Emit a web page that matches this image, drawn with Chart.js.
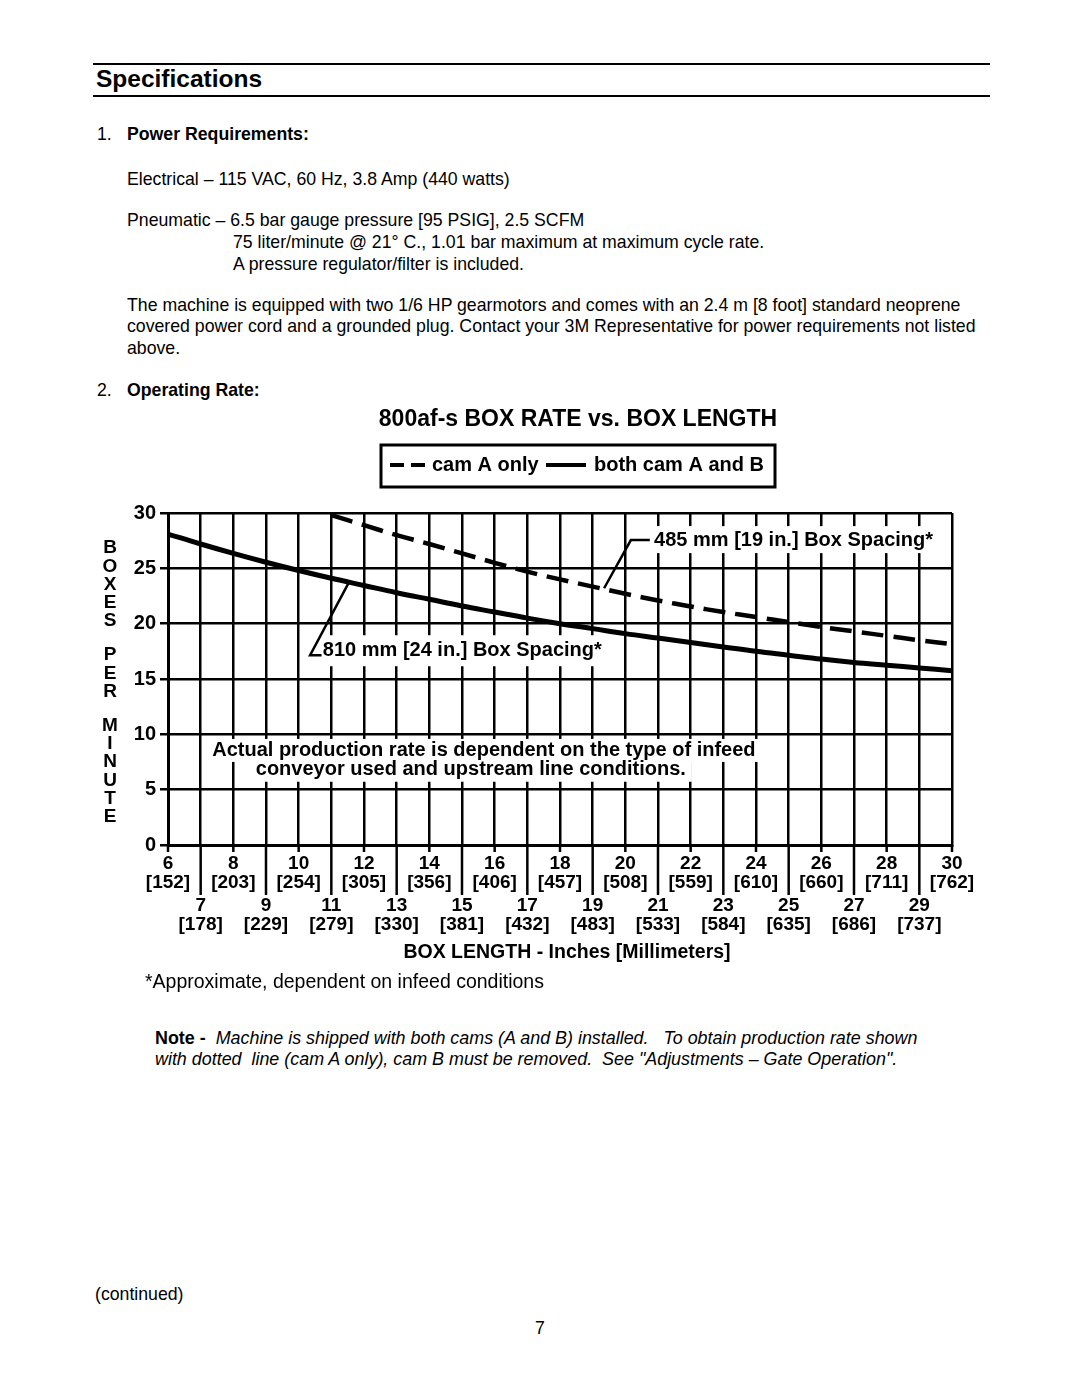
<!DOCTYPE html>
<html>
<head>
<meta charset="utf-8">
<script src="https://cdn.jsdelivr.net/npm/chart.js@4.4.1/dist/chart.umd.min.js"></script>
<style>
  body { margin: 0; background: #fff; }
  #page { position: relative; width: 1080px; height: 1397px; font-family: "Liberation Sans", Arial, sans-serif; color: #000; }
  .t { position: absolute; white-space: pre; font-size: 17.7px; line-height: 20px; }
  .b { font-weight: bold; }
  .rule { position: absolute; left: 93px; width: 897px; height: 2px; background: #000; }
  #wrap { position: absolute; left: 90px; top: 395px; width: 910px; height: 610px; }
</style>
</head>
<body>
<div id="page">
  <div class="rule" style="top:63px"></div>
  <div class="t b" style="top:65px;left:96px;font-size:24.5px;line-height:28px">Specifications</div>
  <div class="rule" style="top:95px"></div>

  <div class="t" style="top:124px;left:97px">1.</div>
  <div class="t b" style="top:124px;left:127px">Power Requirements:</div>
  <div class="t" style="top:169px;left:127px">Electrical – 115 VAC, 60 Hz, 3.8 Amp (440 watts)</div>
  <div class="t" style="top:210px;left:127px">Pneumatic – 6.5 bar gauge pressure [95 PSIG], 2.5 SCFM</div>
  <div class="t" style="top:232px;left:233px">75 liter/minute @ 21° C., 1.01 bar maximum at maximum cycle rate.</div>
  <div class="t" style="top:254px;left:233px">A pressure regulator/filter is included.</div>
  <div class="t" style="top:295px;left:127px">The machine is equipped with two 1/6 HP gearmotors and comes with an 2.4 m [8 foot] standard neoprene</div>
  <div class="t" style="top:316px;left:127px">covered power cord and a grounded plug. Contact your 3M Representative for power requirements not listed</div>
  <div class="t" style="top:338px;left:127px">above.</div>
  <div class="t" style="top:380px;left:97px">2.</div>
  <div class="t b" style="top:380px;left:127px">Operating Rate:</div>

  <div id="wrap"><canvas id="rateChart"></canvas></div>

  <div class="t" style="top:1028px;left:155px;font-size:17.9px"><span class="b">Note - </span><i> Machine is shipped with both cams (A and B) installed.   To obtain production rate shown</i></div>
  <div class="t" style="top:1049px;left:155px;font-size:17.9px"><i>with dotted  line (cam A only), cam B must be removed.  See "Adjustments – Gate Operation".</i></div>

  <div class="t" style="top:1284px;left:95px">(continued)</div>
  <div class="t" style="top:1318px;left:535px">7</div>
</div>

<script>
const FONT = '"Liberation Sans", Arial, sans-serif';

// box length in inches, with the millimetre value printed under each
const boxLength = [6, 7, 8, 9, 10, 11, 12, 13, 14, 15, 16, 17, 18, 19, 20, 21, 22, 23, 24, 25, 26, 27, 28, 29, 30];
const millimeters = [152, 178, 203, 229, 254, 279, 305, 330, 356, 381, 406, 432, 457, 483, 508, 533, 559, 584, 610, 635, 660, 686, 711, 737, 762];

// both cam A and B (810 mm box spacing)
const bothCams = [28.1, 27.2, 26.35, 25.55, 24.8, 24.1, 23.45, 22.8, 22.2, 21.6, 21.05, 20.5, 20.0, 19.55, 19.1, 18.7, 18.3, 17.9, 17.5, 17.15, 16.8, 16.5, 16.25, 16.0, 15.75];

// cam A only (485 mm box spacing)
const camALength = [11, 12, 13, 14, 15, 16, 17, 18, 19, 20, 21, 22, 23, 24, 25, 26, 27, 28, 29, 30];
const camAOnly = [29.8, 28.9, 28.0, 27.2, 26.35, 25.5, 24.7, 24.0, 23.35, 22.7, 22.1, 21.55, 21.05, 20.6, 20.15, 19.7, 19.3, 18.9, 18.5, 18.15];

const yTicks = [0, 5, 10, 15, 20, 25, 30];

// text placed inside the plot, in data units
const plotNotes = [
  { text: "485 mm [19 in.] Box Spacing*", x: 20.88, y: 27.55, align: "left", padTop: 14, padBottom: 13 },
  { text: "810 mm [24 in.] Box Spacing*", x: 10.74, y: 17.6, align: "left", padTop: 15, padBottom: 16 },
  { text: "Actual production rate is dependent on the type of infeed", x: 15.67, y: 8.5, align: "center", padTop: 12, padBottom: 11 },
  { text: "conveyor used and upstream line conditions.", x: 15.27, y: 6.8, align: "center", padTop: 9, padBottom: 12 },
];
const leaders = [
  [[20.75, 27.55], [20.17, 27.55], [19.35, 23.2]],
  [[10.7, 17.15], [10.35, 17.15], [11.55, 23.8]],
];

const decor = {
  id: "decor",
  beforeDatasetsDraw(chart) {
    const { ctx, scales: { x, y } } = chart;
    ctx.save();
    ctx.font = "bold 20px " + FONT;
    ctx.fillStyle = "#fff";
    plotNotes.forEach((n) => {
      const w = ctx.measureText(n.text).width;
      const px = x.getPixelForValue(n.x);
      const py = y.getPixelForValue(n.y);
      const left = n.align === "left" ? px : px - w / 2;
      ctx.fillRect(left - 6, py - n.padTop, w + 12, n.padTop + n.padBottom);
    });
    ctx.restore();
  },
  afterDatasetsDraw(chart) {
    const { ctx, scales: { x, y } } = chart;
    ctx.save();
    ctx.fillStyle = "#000";
    ctx.font = "bold 20px " + FONT;
    ctx.textBaseline = "middle";
    plotNotes.forEach((n) => {
      ctx.textAlign = n.align;
      ctx.fillText(n.text, x.getPixelForValue(n.x), y.getPixelForValue(n.y));
    });
    ctx.strokeStyle = "#000";
    ctx.lineWidth = 2.5;
    leaders.forEach((pts) => {
      ctx.beginPath();
      pts.forEach(([vx, vy], i) => {
        const px = x.getPixelForValue(vx), py = y.getPixelForValue(vy);
        if (i === 0) ctx.moveTo(px, py); else ctx.lineTo(px, py);
      });
      ctx.stroke();
    });
    ctx.restore();
  },
  afterDraw(chart) {
    const { ctx, chartArea, scales: { x } } = chart;
    const bottom = chartArea.bottom;
    ctx.save();
    ctx.fillStyle = "#000";
    ctx.strokeStyle = "#000";

    // ticks below the axis, long ones for odd inches
    ctx.lineWidth = 2.5;
    boxLength.forEach((v) => {
      const px = x.getPixelForValue(v);
      ctx.beginPath();
      ctx.moveTo(px, bottom);
      ctx.lineTo(px, bottom + (v % 2 ? 50 : 7));
      ctx.stroke();
    });

    // inch / mm labels on two rows
    ctx.font = "bold 19px " + FONT;
    ctx.textAlign = "center";
    ctx.textBaseline = "middle";
    boxLength.forEach((v, i) => {
      const px = x.getPixelForValue(v);
      const row = v % 2 ? 61 : 19;
      ctx.fillText(String(v), px, bottom + row);
      ctx.fillText("[" + millimeters[i] + "]", px, bottom + row + 19);
    });

    ctx.font = "bold 19.5px " + FONT;
    ctx.fillText("BOX LENGTH - Inches [Millimeters]", 477, 558);
    ctx.font = "19.5px " + FONT;
    ctx.textAlign = "left";
    ctx.fillText("*Approximate, dependent on infeed conditions", 55, 588);

    // title
    ctx.font = "bold 23px " + FONT;
    ctx.textAlign = "center";
    ctx.fillText("800af-s BOX RATE vs. BOX LENGTH", 488, 25);

    // legend box
    ctx.lineWidth = 3;
    ctx.strokeRect(291, 50, 394, 42);
    ctx.lineWidth = 4;
    ctx.beginPath();
    ctx.moveTo(300, 70); ctx.lineTo(314, 70);
    ctx.moveTo(321, 70); ctx.lineTo(335, 70);
    ctx.moveTo(456, 70); ctx.lineTo(496, 70);
    ctx.stroke();
    ctx.font = "bold 20px " + FONT;
    ctx.textAlign = "left";
    ctx.fillText("cam A only", 342, 70);
    ctx.fillText("both cam A and B", 504, 70);

    // stacked y axis title
    ctx.font = "bold 19px " + FONT;
    ctx.textAlign = "center";
    let ly = 153;
    "BOXES PER MINUTE".split("").forEach((ch) => {
      if (ch === " ") { ly += 15.5; return; }
      ctx.fillText(ch, 20, ly);
      ly += 18.3;
    });
    ctx.restore();
  },
};

new Chart(document.getElementById("rateChart"), {
  type: "line",
  data: {
    datasets: [
      {
        label: "both cam A and B",
        data: boxLength.map((v, i) => ({ x: v, y: bothCams[i] })),
        borderColor: "#000",
        borderWidth: 5,
        pointRadius: 0,
        tension: 0.4,
        fill: false,
      },
      {
        label: "cam A only",
        data: camALength.map((v, i) => ({ x: v, y: camAOnly[i] })),
        borderColor: "#000",
        borderWidth: 4.5,
        borderDash: [22, 10],
        pointRadius: 0,
        tension: 0.4,
        fill: false,
      },
    ],
  },
  options: {
    responsive: true,
    maintainAspectRatio: false,
    animation: false,
    layout: { padding: { left: 38, right: 48, top: 118, bottom: 150 } },
    plugins: { legend: { display: false }, title: { display: false }, tooltip: { enabled: false } },
    scales: {
      x: {
        type: "linear",
        min: boxLength[0],
        max: boxLength[boxLength.length - 1],
        afterFit: (s) => { s.height = 10; },
        ticks: { stepSize: 1, display: false },
        grid: { color: "#000", lineWidth: 2.5, drawTicks: false },
        border: { display: true, color: "#000", width: 3 },
      },
      y: {
        min: yTicks[0],
        max: yTicks[yTicks.length - 1],
        afterFit: (s) => { s.width = 40; },
        afterBuildTicks: (s) => { s.ticks = yTicks.map((v) => ({ value: v })); },
        ticks: { color: "#000", font: { family: FONT, size: 20, weight: "bold" }, padding: 4 },
        grid: { color: "#000", lineWidth: 2.5, tickLength: 8, tickColor: "#000", tickWidth: 2.5 },
        border: { display: true, color: "#000", width: 3 },
      },
    },
  },
  plugins: [decor],
});
</script>
</body>
</html>
